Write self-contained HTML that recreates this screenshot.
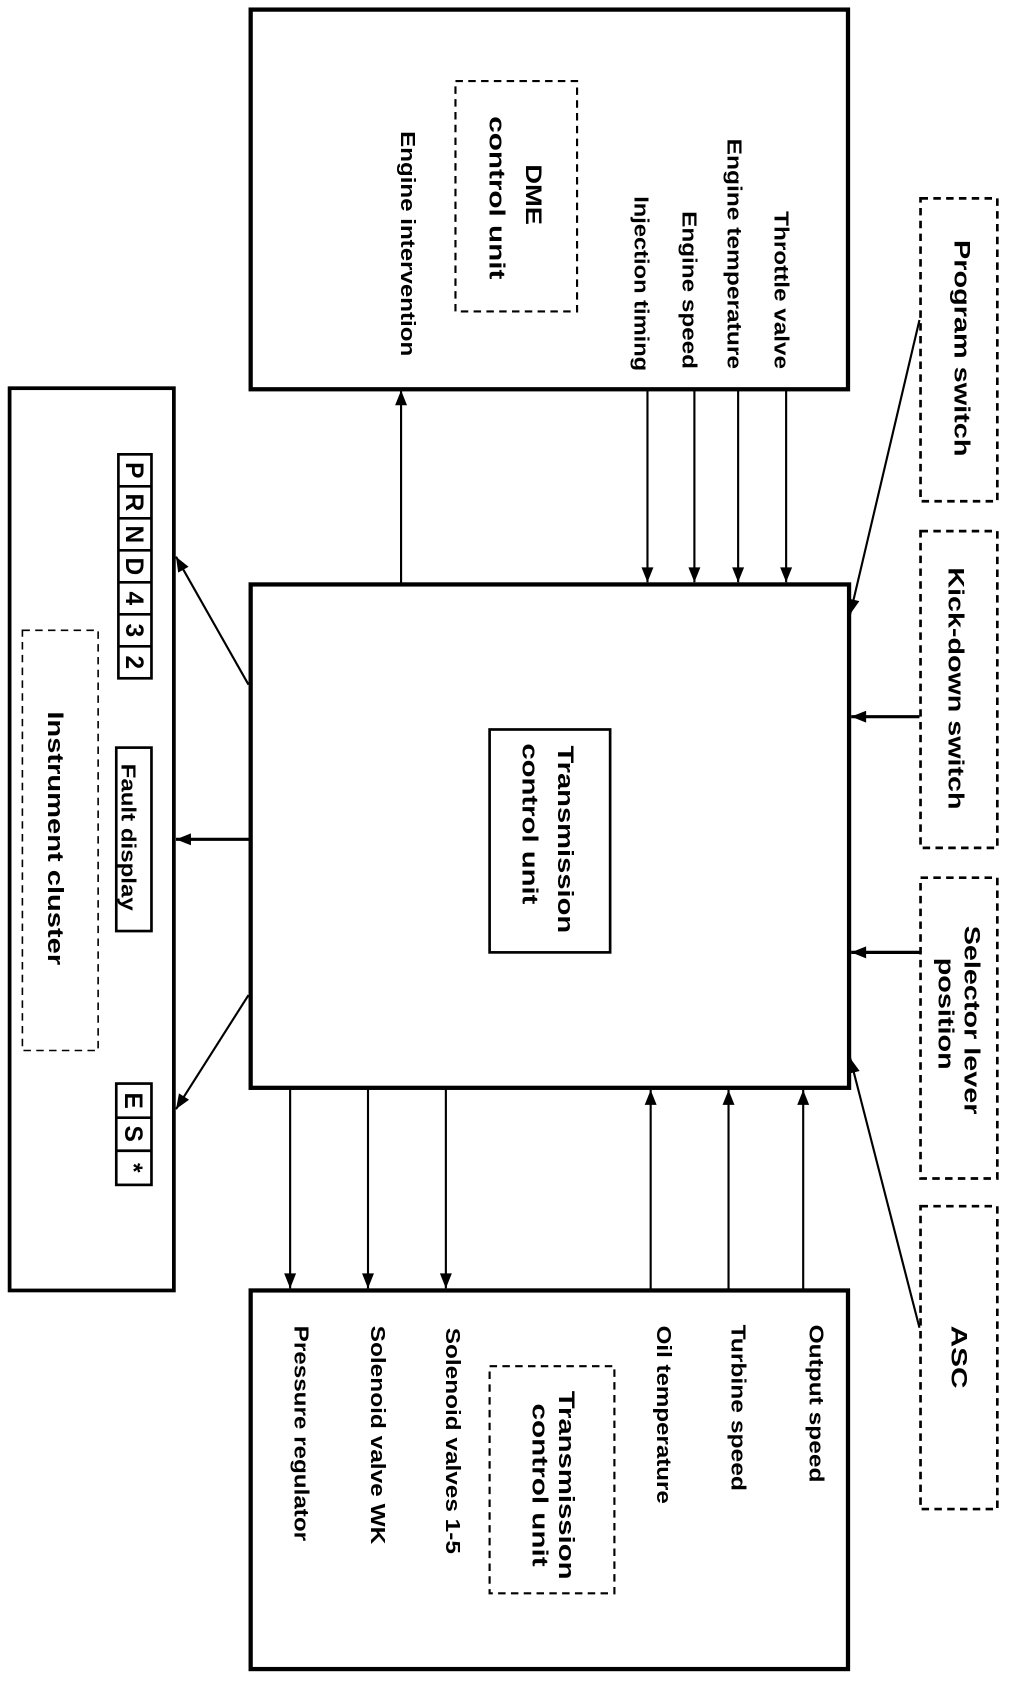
<!DOCTYPE html>
<html><head><meta charset="utf-8"><style>
html,body{margin:0;padding:0;background:#fff;}
svg{display:block;}
text{font-family:"Liberation Sans",sans-serif;fill:#000;}
.b{font-weight:bold;font-size:21px;}
.l{font-size:19px;font-weight:bold;}
</style></head><body>
<svg width="1024" height="1684" viewBox="0 0 960 1579" preserveAspectRatio="none" xmlns="http://www.w3.org/2000/svg">
<defs>
<marker id="a" viewBox="0 0 10 10" refX="10" refY="5" markerWidth="16" markerHeight="14" markerUnits="userSpaceOnUse" orient="auto"><path d="M0,1 L10,5 L0,9 Z" fill="#000"/></marker>
</defs>
<g fill="none" stroke="#000">
<rect x="235" y="9" width="560" height="356" stroke-width="4"/>
<rect x="235" y="548" width="561" height="472" stroke-width="4"/>
<rect x="235" y="1210" width="560" height="355" stroke-width="4"/>
<rect x="9" y="364" width="154" height="846" stroke-width="3.5"/>
<rect x="459" y="684" width="113" height="209" stroke-width="2.5"/>
<g stroke-dasharray="7,5" stroke-width="2">
<rect x="427" y="76" width="114" height="216"/>
<rect x="459" y="1281" width="117" height="213"/>
<rect x="21" y="591" width="71" height="394" stroke-width="1.5"/>
<rect x="863" y="186" width="72" height="284" stroke-width="2.5"/>
<rect x="863" y="498" width="72" height="297" stroke-width="2.5"/>
<rect x="863" y="823" width="72" height="282" stroke-width="2.5"/>
<rect x="863" y="1131" width="72" height="284" stroke-width="2.5"/>
</g>
<g stroke-width="2.5">
<rect x="111" y="426" width="31" height="210"/>
<line x1="111" y1="456" x2="142" y2="456"/><line x1="111" y1="486" x2="142" y2="486"/><line x1="111" y1="516" x2="142" y2="516"/><line x1="111" y1="546" x2="142" y2="546"/><line x1="111" y1="576" x2="142" y2="576"/><line x1="111" y1="606" x2="142" y2="606"/>
<rect x="109" y="701" width="33" height="172"/>
<rect x="109" y="1016" width="33" height="95"/>
<line x1="109" y1="1048" x2="142" y2="1048"/><line x1="109" y1="1079" x2="142" y2="1079"/>
</g>
<g stroke-width="2" marker-end="url(#a)">
<line x1="607" y1="365" x2="607" y2="546"/>
<line x1="651" y1="365" x2="651" y2="546"/>
<line x1="692" y1="365" x2="692" y2="546"/>
<line x1="737" y1="365" x2="737" y2="546"/>
<line x1="376" y1="548" x2="376" y2="366"/>
<line x1="272" y1="1020" x2="272" y2="1208"/>
<line x1="345" y1="1020" x2="345" y2="1208"/>
<line x1="418" y1="1020" x2="418" y2="1208"/>
<line x1="610" y1="1210" x2="610" y2="1022"/>
<line x1="683" y1="1210" x2="683" y2="1022"/>
<line x1="753" y1="1210" x2="753" y2="1022"/>
<line x1="233" y1="642" x2="165" y2="522"/>
<line x1="235" y1="787" x2="165" y2="787" stroke-width="3"/>
<line x1="233" y1="933" x2="165" y2="1040"/>
<line x1="862" y1="300" x2="797" y2="576"/>
<line x1="862" y1="672" x2="798" y2="672" stroke-width="3"/>
<line x1="862" y1="893" x2="798" y2="893" stroke-width="3"/>
<line x1="862" y1="1245" x2="797" y2="992"/>
</g>
</g>
<g class="l">
<text transform="translate(726,198) rotate(90)" textLength="148" lengthAdjust="spacingAndGlyphs">Throttle valve</text>
<text transform="translate(682,130) rotate(90)" textLength="216" lengthAdjust="spacingAndGlyphs">Engine temperature</text>
<text transform="translate(640,198) rotate(90)" textLength="148" lengthAdjust="spacingAndGlyphs">Engine speed</text>
<text transform="translate(595,184) rotate(90)" textLength="164" lengthAdjust="spacingAndGlyphs">Injection timing</text>
<text transform="translate(376,123) rotate(90)" textLength="211" lengthAdjust="spacingAndGlyphs">Engine intervention</text>
<text transform="translate(759,1242) rotate(90)" textLength="148" lengthAdjust="spacingAndGlyphs">Output speed</text>
<text transform="translate(686,1242) rotate(90)" textLength="156" lengthAdjust="spacingAndGlyphs">Turbine speed</text>
<text transform="translate(616,1243) rotate(90)" textLength="167" lengthAdjust="spacingAndGlyphs">Oil temperature</text>
<text transform="translate(418,1245) rotate(90)" textLength="212" lengthAdjust="spacingAndGlyphs">Solenoid valves 1-5</text>
<text transform="translate(348,1243) rotate(90)" textLength="205" lengthAdjust="spacingAndGlyphs">Solenoid valve WK</text>
<text transform="translate(276,1243) rotate(90)" textLength="202" lengthAdjust="spacingAndGlyphs">Pressure regulator</text>
<text transform="translate(114,716) rotate(90)" textLength="138" lengthAdjust="spacingAndGlyphs">Fault display</text>
</g>
<g class="b">
<text transform="translate(493,154) rotate(90)" textLength="57" lengthAdjust="spacingAndGlyphs">DME</text>
<text transform="translate(459,109) rotate(90)" textLength="153" lengthAdjust="spacingAndGlyphs">control unit</text>
<text transform="translate(523,699) rotate(90)" textLength="176" lengthAdjust="spacingAndGlyphs">Transmission</text>
<text transform="translate(490,697) rotate(90)" textLength="151" lengthAdjust="spacingAndGlyphs">control unit</text>
<text transform="translate(524,1304) rotate(90)" textLength="177" lengthAdjust="spacingAndGlyphs">Transmission</text>
<text transform="translate(499,1316) rotate(90)" textLength="153" lengthAdjust="spacingAndGlyphs">control unit</text>
<text transform="translate(45,667) rotate(90)" textLength="238" lengthAdjust="spacingAndGlyphs">Instrument cluster</text>
<text transform="translate(895,225) rotate(90)" textLength="203" lengthAdjust="spacingAndGlyphs">Program switch</text>
<text transform="translate(889,532) rotate(90)" textLength="227" lengthAdjust="spacingAndGlyphs">Kick-down switch</text>
<text transform="translate(904,868) rotate(90)" textLength="177" lengthAdjust="spacingAndGlyphs">Selector lever</text>
<text transform="translate(880,898) rotate(90)" textLength="105" lengthAdjust="spacingAndGlyphs">position</text>
<text transform="translate(892,1243) rotate(90)" textLength="59" lengthAdjust="spacingAndGlyphs">ASC</text>
</g>
<g style="font-size:23px;font-weight:bold">
<text transform="translate(118,441) rotate(90)" text-anchor="middle">P</text>
<text transform="translate(118,471) rotate(90)" text-anchor="middle">R</text>
<text transform="translate(118,501) rotate(90)" text-anchor="middle">N</text>
<text transform="translate(118,531) rotate(90)" text-anchor="middle">D</text>
<text transform="translate(118,561) rotate(90)" text-anchor="middle">4</text>
<text transform="translate(118,591) rotate(90)" text-anchor="middle">3</text>
<text transform="translate(118,621) rotate(90)" text-anchor="middle">2</text>
<text transform="translate(117,1032) rotate(90)" text-anchor="middle">E</text>
<text transform="translate(117,1063) rotate(90)" text-anchor="middle">S</text>
<text transform="translate(117,1095) rotate(90)" text-anchor="middle">*</text>
</g>
</svg>
</body></html>
